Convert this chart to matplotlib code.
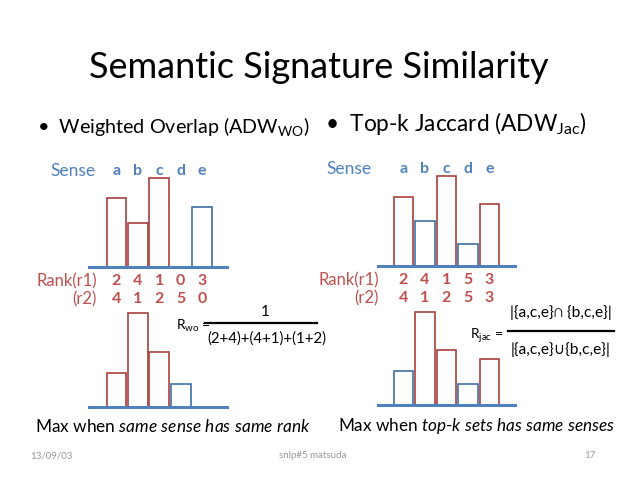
import matplotlib
matplotlib.use("Agg")
import matplotlib.pyplot as plt

plt.rcParams['font.family'] = ['Lato', 'DejaVu Sans']
plt.rcParams['mathtext.fontset'] = 'custom'
plt.rcParams['mathtext.rm'] = 'Lato'
plt.rcParams['mathtext.it'] = 'Lato:italic'

W, H = 638, 479
RED = "#c0504d"
BLUE = "#4f81bd"
RED_EDGE = "#a9403d"
BLUE_EDGE = "#3f6fa5"

senses = ["a", "b", "c", "d", "e"]
# bar heights (arbitrary units)
wo_r1 = [69, 44, 89, 0, 60]
wo_r2 = [34, 94, 55, 23, 0]
wo_rank1 = ["2", "4", "1", "0", "3"]
wo_rank2 = ["4", "1", "2", "5", "0"]
wo_col1 = ["r", "r", "r", "b", "b"]
wo_col2 = ["r", "r", "r", "b", "b"]

jac_r1 = [69, 45, 90, 22, 62]
jac_r2 = [34, 93, 55, 21, 46]
jac_rank1 = ["2", "4", "1", "5", "3"]
jac_rank2 = ["4", "1", "2", "5", "3"]
jac_col1 = ["r", "b", "r", "b", "r"]
jac_col2 = ["b", "r", "r", "b", "r"]

fig = plt.figure(figsize=(W / 100, H / 100), dpi=100)


def ftext(x, y, s, **kw):
    # place text by pixel position of the slide (y from top)
    fig.text(x / W, 1 - y / H, s, **kw)


def panel(x0, x1, base, a_center, step, heights, cols):
    # axes whose y unit is one pixel, baseline at `base`
    ax = fig.add_axes([x0 / W, 1 - base / H, (x1 - x0) / W, 100 / H])
    ax.set_xlim((x0 - a_center) / step, (x1 - a_center) / step)
    ax.set_ylim(0, 100)
    ax.axis("off")
    edges = [RED_EDGE if c == "r" else BLUE_EDGE for c in cols]
    for i, h in enumerate(heights):
        if h > 0:
            ax.bar(i, h, width=0.92, facecolor="white", edgecolor=edges[i], linewidth=1.2, zorder=2)
    ax.axhline(0, color="#4f81bd", lw=2.2, zorder=3, clip_on=False)
    return ax


def labels(ax, ys, row, color, weight="bold"):
    for i, s in enumerate(row):
        ax.annotate(s, (i, H - ys), xycoords=("data", "figure pixels"), ha="center", va="center",
                    color=color, fontsize=11.5, fontweight=weight)


# left panels
axA = panel(89, 227, 267, 116.5, 21.4, wo_r1, wo_col1)
axB = panel(89, 227, 407, 116.5, 21.4, wo_r2, wo_col2)
labels(axA, 171, senses, BLUE)
labels(axA, 281, wo_rank1, RED)
labels(axA, 299, wo_rank2, RED)

# right panels
axC = panel(378, 515, 266, 403.5, 21.5, jac_r1, jac_col1)
axD = panel(378, 515, 405, 403.5, 21.5, jac_r2, jac_col2)
labels(axC, 169, senses, BLUE)
labels(axC, 280, jac_rank1, RED)
labels(axC, 298, jac_rank2, RED)

# headings
ftext(319, 68, "Semantic Signature Similarity", ha="center", va="center", fontsize=26)
ftext(37, 126, r"•  Weighted Overlap (ADW$_{\rm WO}$)", ha="left", va="center", fontsize=14.2)
ftext(325, 124, r"•  Top-k Jaccard (ADW$_{\rm Jac}$)", ha="left", va="center", fontsize=16.3)

ftext(96, 171, "Sense", ha="right", va="center", color=BLUE, fontsize=12.5)
ftext(372, 169, "Sense", ha="right", va="center", color=BLUE, fontsize=12.5)
ftext(97, 281, "Rank(r1)", ha="right", va="center", color=RED, fontsize=12)
ftext(97, 299, "(r2)", ha="right", va="center", color=RED, fontsize=12)
ftext(379, 280, "Rank(r1)", ha="right", va="center", color=RED, fontsize=12)
ftext(379, 298, "(r2)", ha="right", va="center", color=RED, fontsize=12)

# formulas
ftext(265, 312, "1", ha="center", va="center", fontsize=11)
fig.add_artist(plt.Line2D([205 / W, 317 / W], [1 - 323 / H, 1 - 323 / H], color="black", lw=1.6))
ftext(267, 339, "(2+4)+(4+1)+(1+2)", ha="center", va="center", fontsize=10.8)
ftext(176, 326, r"R$_{\rm wo}$ =", ha="left", va="center", fontsize=10)

ftext(561, 313, "|{a,c,e}∩ {b,c,e}|", ha="center", va="center", fontsize=11.2)
fig.add_artist(plt.Line2D([508 / W, 614 / W], [1 - 331 / H, 1 - 331 / H], color="black", lw=1.6))
ftext(561, 350, "|{a,c,e}∪{b,c,e}|", ha="center", va="center", fontsize=11.2)
ftext(470, 336, r"R$_{\rm jac}$ =", ha="left", va="center", fontsize=10)

ftext(35, 426, r"Max when $\it{same\ sense\ has\ same\ rank}$", ha="left", va="center", fontsize=12.4)
ftext(338, 426, r"Max when $\it{top\text{-}k\ sets\ has\ same\ senses}$", ha="left", va="center", fontsize=12.3)

# footer
ftext(30, 456, "13/09/03", ha="left", va="center", fontsize=7, color="#999999")
ftext(313, 456, "snlp#5 matsuda", ha="center", va="center", fontsize=7, color="#999999")
ftext(596, 456, "17", ha="right", va="center", fontsize=7, color="#999999")

fig.savefig("out.png", dpi=100)
